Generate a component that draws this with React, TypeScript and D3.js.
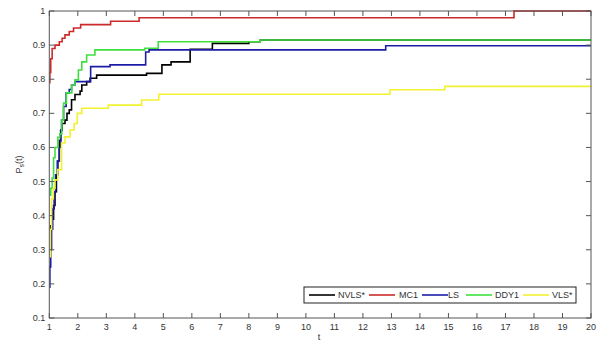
import React from "react";
import * as d3 from "d3";

const xTicks = d3.range(1, 21);
const yTicks = [0.1, 0.2, 0.3, 0.4, 0.5, 0.6, 0.7, 0.8, 0.9, 1];

const nvlsT = [1.0, 1.05, 1.1, 1.15, 1.2, 1.25, 1.3, 1.35, 1.4, 1.45, 1.55, 1.62, 1.7, 1.78, 1.9, 2.08, 2.14, 2.31, 2.43, 2.66, 4.41, 4.95, 5.27, 5.94, 6.72, 8.0, 8.4, 20];
const nvlsV = [0.36, 0.37, 0.39, 0.43, 0.47, 0.52, 0.56, 0.62, 0.65, 0.67, 0.68, 0.70, 0.71, 0.74, 0.755, 0.765, 0.783, 0.793, 0.803, 0.812, 0.817, 0.842, 0.851, 0.888, 0.905, 0.91, 0.915, 0.915];

const mc1T = [1.0, 1.02, 1.05, 1.1, 1.2, 1.35, 1.45, 1.55, 1.7, 1.85, 2.1, 3.15, 4.15, 17.3, 20];
const mc1V = [0.79, 0.82, 0.86, 0.89, 0.90, 0.91, 0.92, 0.93, 0.94, 0.95, 0.96, 0.97, 0.98, 1.0, 1.0];

const lsT = [1.0, 1.02, 1.05, 1.08, 1.12, 1.17, 1.22, 1.28, 1.35, 1.4, 1.43, 1.5, 1.59, 1.7, 1.78, 1.9, 2.45, 3.13, 4.38, 4.5, 12.8, 20];
const lsV = [0.19, 0.25, 0.30, 0.36, 0.42, 0.47, 0.52, 0.56, 0.60, 0.65, 0.68, 0.72, 0.76, 0.77, 0.783, 0.793, 0.837, 0.842, 0.88, 0.886, 0.898, 0.898];

const ddyT = [1.0, 1.05, 1.1, 1.15, 1.2, 1.3, 1.37, 1.44, 1.5, 1.6, 1.79, 1.9, 2.02, 2.14, 2.31, 2.6, 4.35, 4.82, 8.4, 20];
const ddyV = [0.46, 0.48, 0.51, 0.57, 0.60, 0.63, 0.64, 0.68, 0.73, 0.76, 0.783, 0.798, 0.827, 0.851, 0.871, 0.886, 0.891, 0.91, 0.915, 0.915];

const vlsT = [1.0, 1.04, 1.08, 1.14, 1.2, 1.3, 1.43, 1.55, 1.73, 1.87, 1.98, 2.14, 3.07, 4.24, 4.84, 12.95, 14.87, 20];
const vlsV = [0.28, 0.36, 0.45, 0.48, 0.505, 0.535, 0.613, 0.631, 0.651, 0.67, 0.70, 0.715, 0.724, 0.739, 0.756, 0.769, 0.779, 0.779];

const seriesNames = ["NVLS*", "MC1", "LS", "DDY1", "VLS*"];
const seriesColors = ["#000000", "#cc2a2a", "#1c1ca6", "#3ee03e", "#f2f230"];
const seriesT = [nvlsT, mc1T, lsT, ddyT, vlsT];
const seriesV = [nvlsV, mc1V, lsV, ddyV, vlsV];

const W = 602;
const H = 345;
const left = 49.3;
const right = 591;
const top = 11;
const bottom = 318;

export default function App() {
  const x = d3.scaleLinear().domain([1, 20]).range([left, right]);
  const y = d3.scaleLinear().domain([0.1, 1]).range([bottom, top]);
  const line = d3
    .line<[number, number]>()
    .x((d) => x(d[0]))
    .y((d) => y(d[1]))
    .curve(d3.curveStepAfter);

  const font = "'Liberation Sans', Arial, sans-serif";
  const axisColor = "#555";
  const textColor = "#333";

  const legendX0 = 304;
  const legendX1 = 576;
  const legendY0 = 287;
  const legendY1 = 303;
  const legendLineStarts = [309, 369, 422, 466, 523];
  const legendLabelStarts = [338, 399, 448, 495, 552];

  return (
    <svg
      width={W}
      height={H}
      style={{ position: "absolute", left: 0, top: 0, background: "#fff" }}
      fontFamily={font}
    >
      <rect x={0} y={0} width={W} height={H} fill="#fff" />
      <clipPath id="plotclip">
        <rect x={left} y={top - 2} width={right - left} height={bottom - top + 2} />
      </clipPath>
      <g clipPath="url(#plotclip)">
        {seriesT.map((ts, i) => (
          <path
            key={seriesNames[i]}
            d={line(ts.map((t, j) => [t, seriesV[i][j]] as [number, number])) || ""}
            fill="none"
            stroke={seriesColors[i]}
            strokeWidth={1.6}
          />
        ))}
      </g>
      <rect
        x={left}
        y={top}
        width={right - left}
        height={bottom - top}
        fill="none"
        stroke={axisColor}
        strokeWidth={1}
      />
      {xTicks.map((t) => (
        <g key={"xt" + t}>
          <line x1={x(t)} x2={x(t)} y1={bottom} y2={bottom - 5} stroke={axisColor} />
          <line x1={x(t)} x2={x(t)} y1={top} y2={top + 5} stroke={axisColor} />
          <text x={x(t)} y={bottom + 12} fontSize={9} fill={textColor} textAnchor="middle">
            {t}
          </text>
        </g>
      ))}
      {yTicks.map((v) => (
        <g key={"yt" + v}>
          <line x1={left} x2={left + 5} y1={y(v)} y2={y(v)} stroke={axisColor} />
          <line x1={right} x2={right - 5} y1={y(v)} y2={y(v)} stroke={axisColor} />
          <text x={left - 4} y={y(v) + 3} fontSize={9} fill={textColor} textAnchor="end">
            {v === 1 ? "1" : v.toFixed(1)}
          </text>
        </g>
      ))}
      <text x={319} y={340} fontSize={9} fill={textColor} textAnchor="middle">
        t
      </text>
      <text
        transform={`translate(22, ${y(0.55)}) rotate(-90)`}
        fontSize={9}
        fill={textColor}
        textAnchor="middle"
      >
        P<tspan fontSize={7} dy={2}>s</tspan>
        <tspan dy={-2}>(t)</tspan>
      </text>
      <rect
        x={legendX0}
        y={legendY0}
        width={legendX1 - legendX0}
        height={legendY1 - legendY0}
        fill="#fff"
        stroke="#222"
        strokeWidth={1}
      />
      {seriesNames.map((name, i) => (
        <g key={"lg" + name}>
          <line
            x1={legendLineStarts[i]}
            x2={legendLineStarts[i] + 26}
            y1={(legendY0 + legendY1) / 2}
            y2={(legendY0 + legendY1) / 2}
            stroke={seriesColors[i]}
            strokeWidth={1.6}
          />
          <text x={legendLabelStarts[i]} y={(legendY0 + legendY1) / 2 + 3} fontSize={9} fill={textColor}>
            {name}
          </text>
        </g>
      ))}
    </svg>
  );
}
